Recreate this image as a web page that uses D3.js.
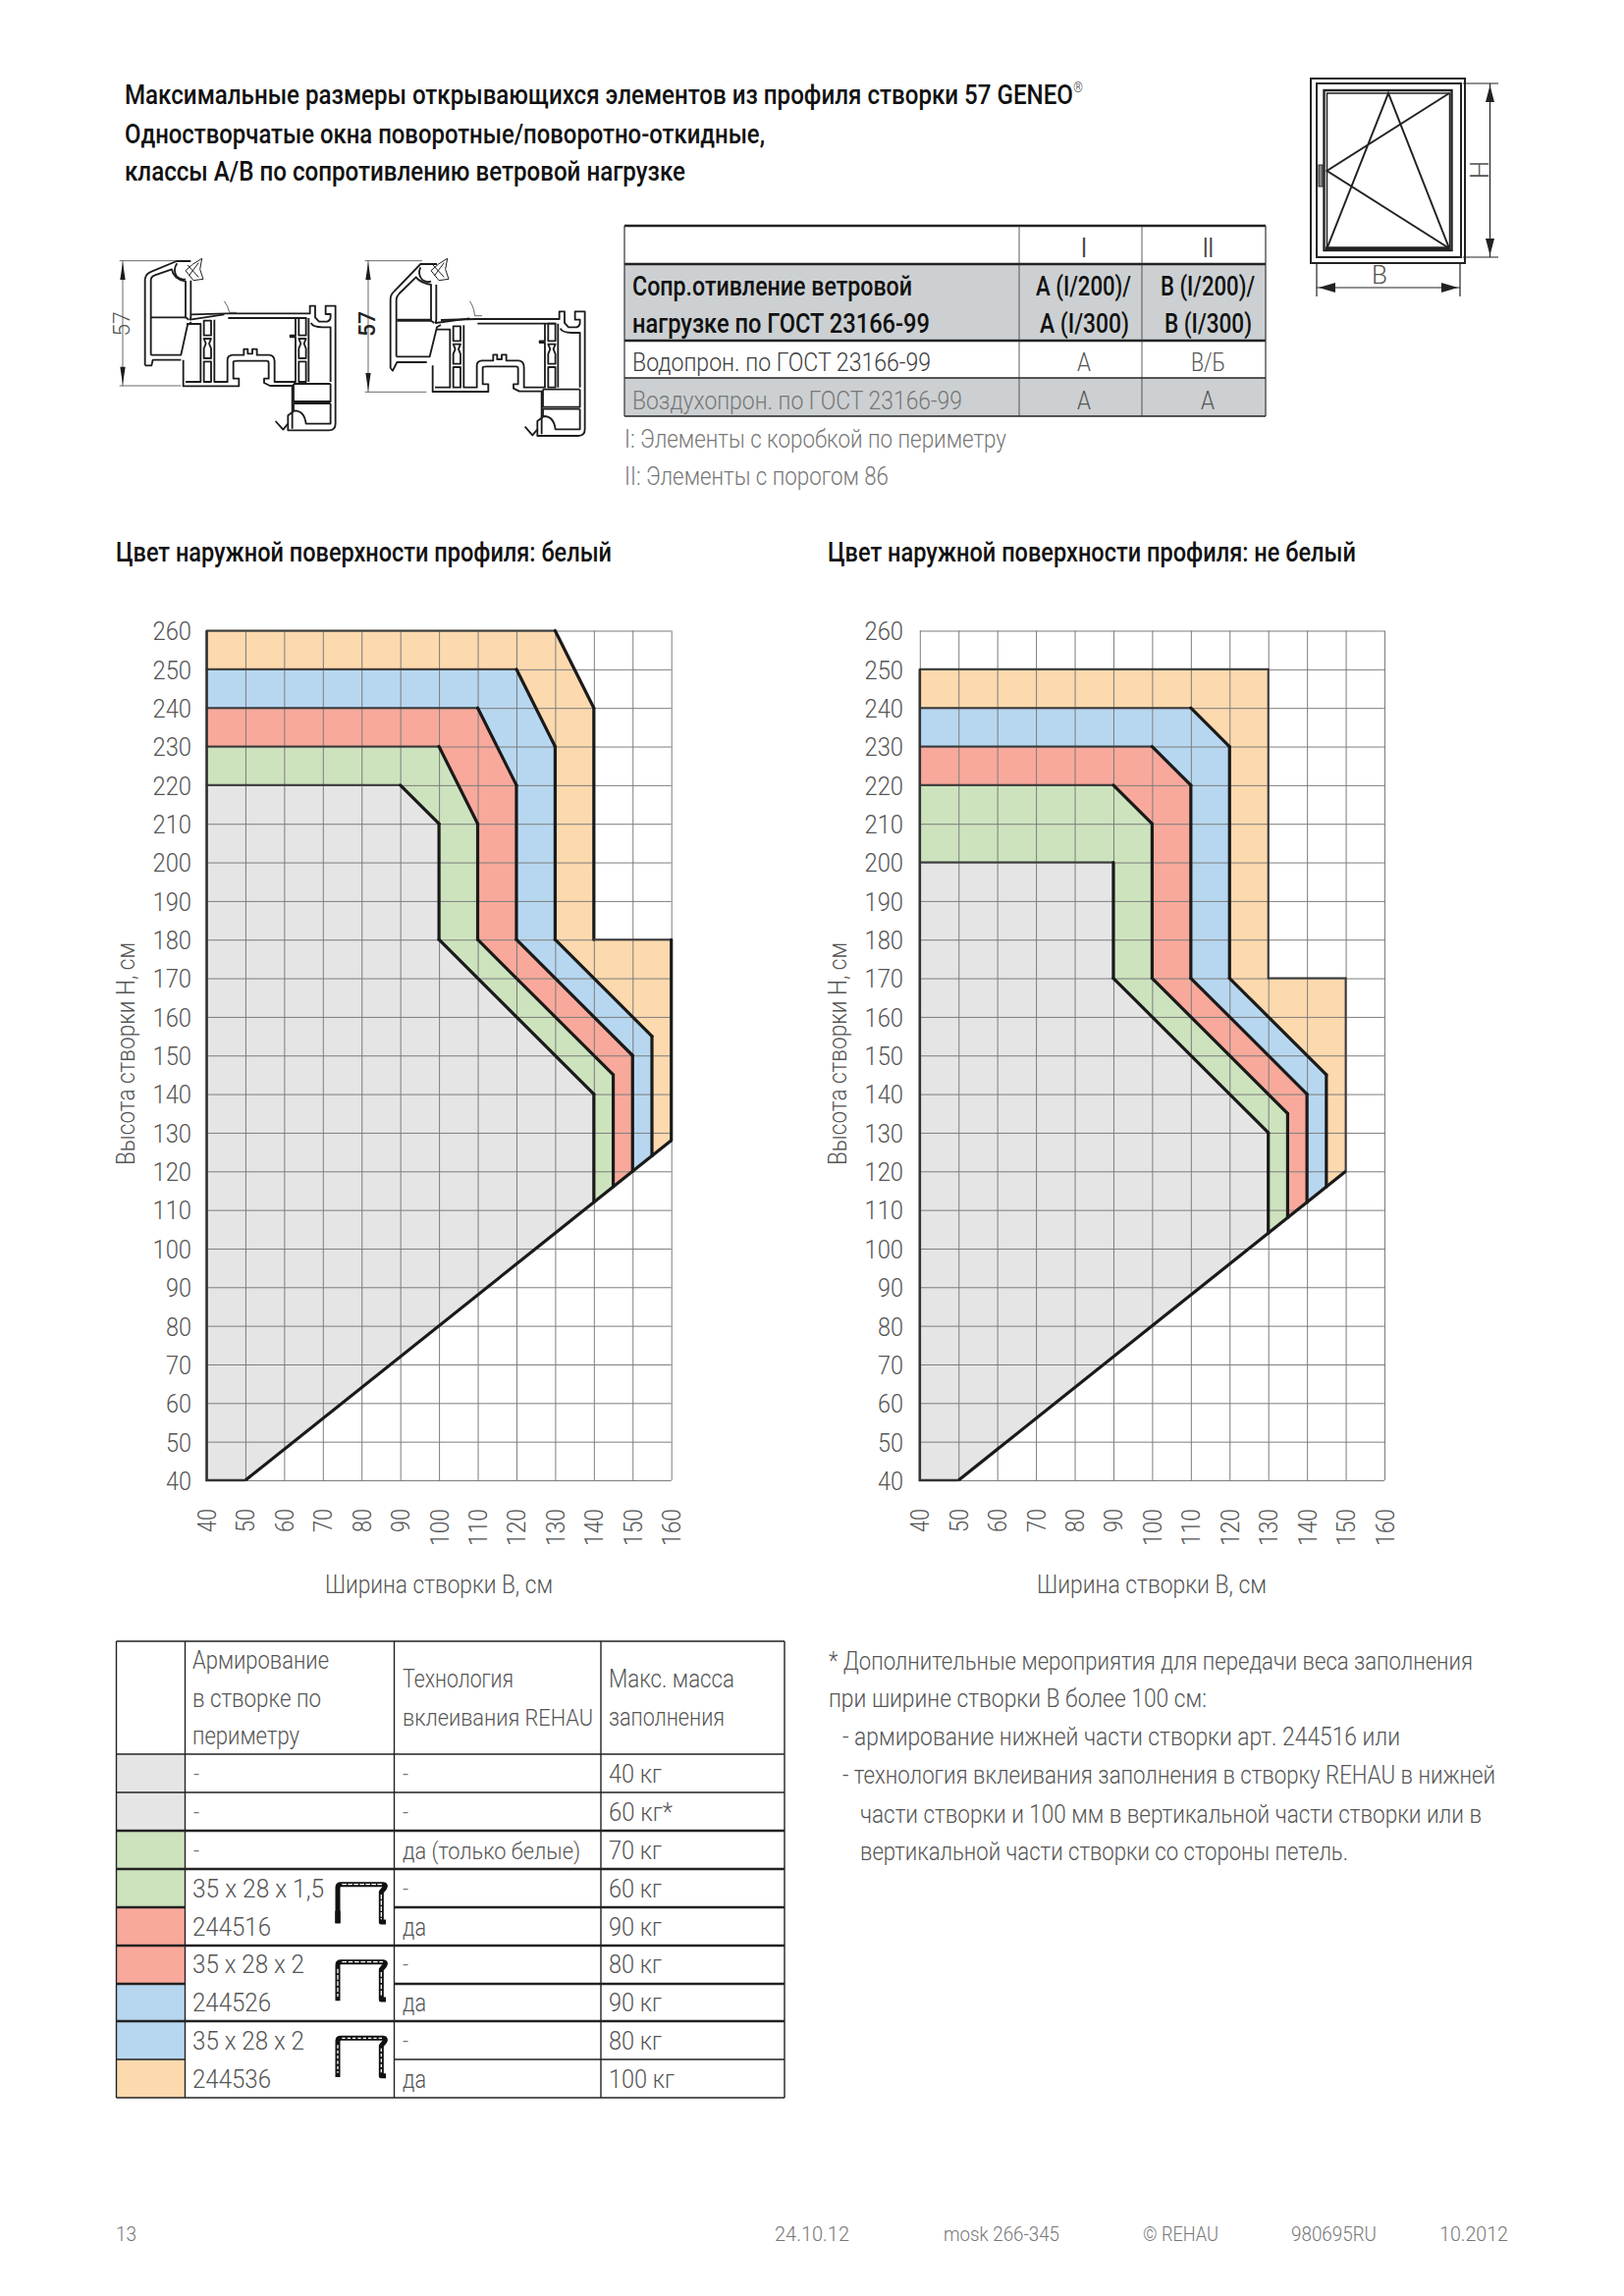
<!DOCTYPE html>
<html><head><meta charset="utf-8">
<script src="https://cdn.jsdelivr.net/npm/d3@7"></script>
<style>html,body{margin:0;padding:0;background:#fff}svg{display:block}
text{font-family:Roboto,"Liberation Sans",sans-serif}</style></head><body>
<svg id="c" width="1654" height="2339"></svg>
<script>
const GRAY="#e5e5e6",GREEN="#cde3bd",RED="#f8a99b",BLUE="#b7d7f0",ORANGE="#fdd9ae";
const xTicks=[40,50,60,70,80,90,100,110,120,130,140,150,160];
const yTicks=[40,50,60,70,80,90,100,110,120,130,140,150,160,170,180,190,200,210,220,230,240,250,260];

// Boundaries [width B cm, height H cm]
const leftOrange=[[40,260],[130,260],[140,240],[140,180],[160,180],[160,128]];
const leftBlue=[[40,250],[120,250],[130,230],[130,180],[155,155],[155,124]];
const leftRed=[[40,240],[110,240],[120,220],[120,180],[150,150],[150,120]];
const leftGreen=[[40,230],[100,230],[110,210],[110,180],[145,145],[145,116]];
const leftGray=[[40,220],[90,220],[100,210],[100,180],[140,140],[140,112]];
const rightOrange=[[40,250],[130,250],[130,170],[150,170],[150,120]];
const rightBlue=[[40,240],[110,240],[120,230],[120,170],[145,145],[145,116]];
const rightRed=[[40,230],[100,230],[110,220],[110,170],[140,140],[140,112]];
const rightGreen=[[40,220],[90,220],[100,210],[100,170],[135,135],[135,108]];
const rightGray=[[40,200],[90,200],[90,170],[130,130],[130,104]];

// text: string, x start, x end, baseline, size, weight, colour
const DK="#444",MID="#555",LT="#777";
const titleTexts=[
["Максимальные размеры открывающихся элементов из профиля створки 57 GENEO",127,1103,106,27,500,"#111"],
["Одностворчатые окна поворотные/поворотно-откидные,",127,779,146,27,500,"#111"],
["классы A/B по сопротивлению ветровой нагрузке",127,698,184,27,500,"#111"],
["Цвет наружной поверхности профиля: белый",118,623,572,27,500,"#111"],
["Цвет наружной поверхности профиля: не белый",843,1381,572,27,500,"#111"]];
const topTableTexts=[
["I",1101,1107,262,27,400,DK],["II",1225,1236,262,27,400,DK],
["Сопр.отивление ветровой",644,929,301,27,500,"#111"],
["нагрузке по ГОСТ 23166-99",644,947,339,27,500,"#111"],
["A (I/200)/",1055,1152,301,27,500,"#111"],["A (I/300)",1059,1150,339,27,500,"#111"],
["B (I/200)/",1182,1278,301,27,500,"#111"],["B (I/300)",1186,1275,339,27,500,"#111"],
["Водопрон. по ГОСТ 23166-99",644,948,378,26,300,"#3c3c3c"],
["А",1097,1111,378,26,300,MID],["В/Б",1213,1248,378,26,300,MID],
["Воздухопрон. по ГОСТ 23166-99",644,980,417,26,300,LT],
["А",1097,1111,417,26,300,MID],["А",1223,1237,417,26,300,MID],
["I: Элементы с коробкой по периметру",636,1025,456,26,300,LT],
["II: Элементы с порогом 86",636,905,494,26,300,LT]];
const axisTitles=[["Ширина створки В, см",331,563,1623,26,300,MID],["Ширина створки В, см",1056,1290,1623,26,300,MID]];
const lowerTableTexts=[
["Армирование",196,335,1700,26,300,MID],["в створке по",196,327,1739,26,300,MID],["периметру",196,305,1777,26,300,MID],
["Технология",410,523,1719,26,300,MID],["вклеивания REHAU",410,604,1758,24,300,MID],
["Макс. масса",620,748,1719,26,300,MID],["заполнения",620,738,1758,26,300,MID],
["-",197,203,1816,26,300,LT],["-",410,416,1816,26,300,LT],["40 кг",620,674,1816,26,300,MID],
["-",197,203,1855,26,300,LT],["-",410,416,1855,26,300,LT],["60 кг*",620,685,1855,26,300,MID],
["-",197,203,1894,26,300,LT],["да (только белые)",410,591,1894,24,300,MID],["70 кг",620,674,1894,26,300,MID],
["35 x 28 x 1,5",196,330,1933,26,300,MID],["-",410,416,1933,26,300,LT],["60 кг",620,674,1933,26,300,MID],
["244516",196,276,1972,26,300,MID],["да",410,434,1972,26,300,MID],["90 кг",620,674,1972,26,300,MID],
["35 x 28 x 2",196,310,2010,26,300,MID],["-",410,416,2010,26,300,LT],["80 кг",620,674,2010,26,300,MID],
["244526",196,276,2049,26,300,MID],["да",410,434,2049,26,300,MID],["90 кг",620,674,2049,26,300,MID],
["35 x 28 x 2",196,310,2088,26,300,MID],["-",410,416,2088,26,300,LT],["80 кг",620,674,2088,26,300,MID],
["244536",196,276,2127,26,300,MID],["да",410,434,2127,26,300,MID],["100 кг",620,687,2127,26,300,MID]];
const noteTexts=[
["* Дополнительные мероприятия для передачи веса заполнения",844,1500,1701,26,300,MID],
["при ширине створки В более 100 см:",844,1229,1739,26,300,MID],
["- армирование нижней части створки арт. 244516 или",858,1426,1778,26,300,MID],
["- технология вклеивания заполнения в створку REHAU в нижней",858,1523,1817,26,300,MID],
["части створки и 100 мм в вертикальной части створки или в",876,1509,1857,26,300,MID],
["вертикальной части створки со стороны петель.",876,1373,1895,26,300,MID]];
const footerTexts=[
["13",118,139,2283,21,300,LT],["24.10.12",789,865,2283,21,300,LT],["mosk 266-345",961,1079,2283,21,300,LT],
["© REHAU",1164,1241,2283,21,300,LT],["980695RU",1315,1402,2283,21,300,LT],["10.2012",1466,1536,2283,21,300,LT]];
// table structure
const topCols=[636,1038,1163,1289];
const topRows=[230,269,347,385,424];
const lowCols=[118.5,188.5,401.5,612,799];
const lowRows=[1672,1787,1826,1865,1904,1943,1982,2021,2059,2098,2137];
const swatchColors=[GRAY,GRAY,GREEN,GREEN,RED,RED,BLUE,BLUE,ORANGE];

const svg=d3.select("#c");
function put(g,list){
  return g.selectAll(null).data(list).join("text").text(d=>d[0])
   .attr("x",d=>d[1]).attr("y",d=>d[3]).attr("font-size",d=>d[4]).attr("font-weight",d=>d[5]).attr("fill",d=>d[6])
   .attr("textLength",d=>d[2]-d[1]).attr("lengthAdjust","spacingAndGlyphs");
}

function chart(tx,layers,thinEdges,bottomEnd,yTitleX,tickEnd){
  const x=d3.scaleLinear().domain([40,160]).range([tx,tx+473.2]);
  const y=d3.scaleLinear().domain([40,260]).range([1508,642.5]);
  const g=svg.append("g");
  const line=d3.line().x(d=>x(d[0])).y(d=>y(d[1]));
  const startB=[[50,40],[40,40]];
  layers.forEach(l=>g.append("path").attr("d",line([...l.pts,...startB])+"Z").attr("fill",l.c));
  const ay=d3.axisLeft(y).tickValues(yTicks).tickSize(-473.2).tickPadding(tx-tickEnd);
  const ax=d3.axisBottom(x).tickValues(xTicks).tickSize(0).tickPadding(0);
  const gy=g.append("g").attr("transform",`translate(${tx},0)`).call(ay);
  const gx=g.append("g").attr("transform",`translate(0,1508)`).call(ax);
  const gv=g.append("g").attr("transform",`translate(0,1508)`).call(d3.axisBottom(x).tickValues(xTicks).tickSize(-865.5).tickFormat(""));
  [gy,gx,gv].forEach(s=>{s.select(".domain").remove();s.selectAll("line").attr("stroke","#7d7d7d").attr("stroke-width",1);});
  gy.selectAll("text").attr("font-size",26).attr("font-weight",300).attr("fill",MID).attr("font-family","Roboto").attr("dy","0.36em")
    .attr("textLength",d=>d>=100?39.5:26).attr("lengthAdjust","spacingAndGlyphs");
  gx.selectAll("text").attr("font-size",26).attr("font-weight",300).attr("fill",MID).attr("font-family","Roboto")
    .attr("text-anchor","end").attr("dy",0).attr("y",0)
    .attr("transform","translate(9,29) rotate(-90)").attr("x",0)
    .attr("textLength",d=>d>=100?38:24).attr("lengthAdjust","spacingAndGlyphs");
  layers.forEach(l=>{
    d3.pairs(l.pts).forEach(([a,b])=>{
      const flat=a[1]===b[1];
      const thin=flat||l.thin;
      g.append("path").attr("d",line([a,b])).attr("fill","none")
       .attr("stroke",thin?"#3a3a3a":"#1a1a1a").attr("stroke-width",thin?2:3.2).attr("stroke-linecap","round");
    });
  });
  g.append("path").attr("d",line([bottomEnd,[50,40]])).attr("stroke","#1a1a1a").attr("stroke-width",3.2).attr("fill","none");
  g.append("path").attr("d",line(thinEdges)).attr("stroke","#333").attr("stroke-width",2.6).attr("fill","none");
  g.append("text").text("Высота створки Н, см").attr("transform",`translate(${yTitleX},1187) rotate(-90)`)
   .attr("font-size",26).attr("font-weight",300).attr("fill",MID).attr("textLength",227).attr("lengthAdjust","spacingAndGlyphs");
}
chart(210.5,[{pts:leftOrange,c:ORANGE},{pts:leftBlue,c:BLUE},{pts:leftRed,c:RED},{pts:leftGreen,c:GREEN},{pts:leftGray,c:GRAY}],
  [[40,260],[40,40],[50,40]],[160,128],137,195);
chart(936.8,[{pts:rightOrange,c:ORANGE,thin:true},{pts:rightBlue,c:BLUE},{pts:rightRed,c:RED},{pts:rightGreen,c:GREEN},{pts:rightGray,c:GRAY}],
  [[40,250],[40,40],[50,40]],[150,120],862,920);

const titles=put(svg.append("g"),titleTexts);
// the registered-mark sign is part of the first title line, raised and small
d3.select(titles.nodes()[0]).append("tspan").text("®").attr("font-size",14).attr("font-weight",300).attr("fill",DK).attr("dy",-12);
put(svg.append("g"),axisTitles);

// upper table
const tt=svg.append("g");
tt.append("rect").attr("x",topCols[0]).attr("y",topRows[1]).attr("width",topCols[3]-topCols[0]).attr("height",topRows[2]-topRows[1]).attr("fill","#ccd0d2");
tt.append("rect").attr("x",topCols[0]).attr("y",topRows[3]).attr("width",topCols[3]-topCols[0]).attr("height",topRows[4]-topRows[3]).attr("fill","#ccd0d2");
[2.5,2.5,2.5,1.3,1.3].forEach((w,i)=>tt.append("line").attr("x1",topCols[0]).attr("x2",topCols[3]).attr("y1",topRows[i]).attr("y2",topRows[i]).attr("stroke","#222").attr("stroke-width",w));
topCols.forEach((c,i)=>tt.append("line").attr("x1",c).attr("x2",c).attr("y1",topRows[0]).attr("y2",topRows[4]).attr("stroke","#333").attr("stroke-width",i==0||i==3?1.2:.8));
put(tt,topTableTexts);

// lower table
const lt=svg.append("g");
swatchColors.forEach((c,i)=>lt.append("rect").attr("x",lowCols[0]).attr("y",lowRows[i+1]).attr("width",lowCols[1]-lowCols[0]).attr("height",lowRows[i+2]-lowRows[i+1]).attr("fill",c));
const heavy=[0,0,0,1,1,1,1,1,1,0,0];
lowRows.forEach((r,i)=>{
  const w=heavy[i]?2.6:1.4;
  if(i===5||i===7||i===9){
    lt.append("line").attr("x1",lowCols[0]).attr("x2",lowCols[1]).attr("y1",r).attr("y2",r).attr("stroke","#222").attr("stroke-width",w);
    lt.append("line").attr("x1",lowCols[2]).attr("x2",lowCols[4]).attr("y1",r).attr("y2",r).attr("stroke","#222").attr("stroke-width",w);
  } else lt.append("line").attr("x1",lowCols[0]).attr("x2",lowCols[4]).attr("y1",r).attr("y2",r).attr("stroke","#222").attr("stroke-width",w);
});
lowCols.forEach(c=>lt.append("line").attr("x1",c).attr("x2",c).attr("y1",lowRows[0]).attr("y2",lowRows[10]).attr("stroke","#222").attr("stroke-width",1.4));
put(lt,lowerTableTexts);
put(svg.append("g"),noteTexts);
put(svg.append("g"),footerTexts);

// reinforcement sections
const ic=svg.append("g").attr("transform","translate(335,1910) scale(.3333)").attr("fill","none").attr("stroke-linejoin","round");
[[0,"14 4"],[237,"14 5"],[470,"10 6"]].forEach(([dy,dash],i)=>{
  const g=ic.append("g").attr("transform",`translate(0,${dy})`);
  g.append("path").attr("d","M27,148 V38 Q27,29 37,29 H166 Q176,30 170,40 L160,52 V144 H174").attr("stroke","#111").attr("stroke-width",15);
  g.append("path").attr("d","M40,29 H165"+(i>0?" M27,50 V135 M160,60 V136":" M160,60 V136")).attr("stroke","#fff").attr("stroke-width",4).attr("stroke-dasharray",dash);
  if(i===0) g.append("path").attr("d","M27,110 V148").attr("stroke","#111").attr("stroke-width",16);
});

// profile drawings, drawn in 3x local units
function profile(ox,oy,upper,lowDx,lowDy,bottomDim,bold){
  const g=svg.append("g").attr("transform",`translate(${ox},${oy}) scale(.3333)`).attr("fill","none").attr("stroke","#1c1c1c").attr("stroke-linejoin","round");
  const d=g.append("g").attr("stroke-width",2);
  d.append("path").attr("d",`M20,32 H195 M20,${bottomDim} H208 M30,32 V${bottomDim}`);
  d.append("path").attr("fill","#1c1c1c").attr("stroke","none").attr("d",`M30,36 L22,90 H38Z M30,${bottomDim-4} L22,${bottomDim-58} H38Z`);
  g.append("text").text("57").attr("transform","translate(50,225) rotate(-90) scale(3,3)").attr("text-anchor","middle").attr("stroke","none").attr("fill",bold?"#222":"#555").attr("font-weight",bold?500:300).attr("font-size",23);
  const u=g.append("g").attr("stroke-width",5.5);
  upper.forEach(p=>u.append("path").attr("d",p));
  const l=g.append("g").attr("stroke-width",5.5).attr("transform",`translate(${lowDx},${lowDy})`);
  const lowerPaths=[
   "M215,335 V415 H385 V392 H368 V340 Q368,338 380,338 H470 Q476,338 476,345 V392 H462 V405 L480,414 H548 V545",
   "M225,225 H268 V402 H222",
   "M278,215 H300 V260 H278Z M278,340 H300 V402 H278Z",
   "M278,270 L284,285 L278,300 V330 H300 V300 L294,285 L300,270Z",
   "M310,212 V402 H350 V335 Q350,322 365,320 H400 V302 H412 V316 H426 V302 H440 V320 H478 Q494,322 494,340 V402 H558 V265 H542 V260 H558 V207",
   "M568,207 H590 V260 H568Z M568,340 H590 V402 H568Z M568,270 L574,285 L568,300 V330 H590 V300 L584,285 L590,270Z",
   "M598,207 V402 M552,408 H665 M552,408 V462 H665 V408",
   "M605,222 Q612,235 640,235 H665 V402",
   "M240,196 L350,193 H602 V170 H618 V205 L630,218 H655 Q665,215 665,205 V195 H650 V170 H680 V530 Q680,550 660,550 H535 V530",
   "M352,207 H592",
   "M665,468 H552 V490 M665,468 V530 H590 Q585,490 555,490 L535,505 V530 L520,548 L497,522"];
  lowerPaths.forEach(p=>l.append("path").attr("d",p));
  g.append("path").attr("stroke-width",2).attr("d",`M340,155 Q352,170 356,${190+lowDy*.6} H378`);
  g.append("path").attr("stroke-width",3).attr("d","M245,42 L272,25 L266,58 L276,88 L246,92 L222,62Z M228,45 L262,82 M262,38 L232,78");
  return g;
}
profile(115,255,[
 "M98,352 V88 Q100,72 118,65 L195,33 H238",
 "M116,320 V92 Q116,80 128,76 L180,58 Q185,88 222,95 V205 L232,212",
 "M116,205 H222","M116,320 H208 L228,228 L240,220","M238,92 V205 L236,212 L340,196",
 "M98,352 H118 L122,335 H208","M196,40 Q182,60 195,80 Q210,92 222,88"],0,0,414,false);
const p2=profile(365,255,[
 "M98,360 V150 Q98,135 110,125 L190,42 H240",
 "M116,325 V150 Q116,142 125,132 L176,82 Q190,100 222,105 V215 L232,222",
 "M116,325 H218 L240,235 L252,228","M238,105 V212 L236,222 L340,208",
 "M98,360 L105,368 L118,342 H209","M190,52 Q180,72 195,90 Q210,100 222,95"],12,17,433,true);
p2.append("path").attr("d","M118,214 H222").attr("stroke-width",9);

// window symbol
const w=svg.append("g").attr("fill","none").attr("stroke","#222");
const rects=[[1335,80,157,188,2],[1341,85,147,177,2],[1348.5,92,130,163,2.4],[1351.5,95,125,158,1.5]];
rects.forEach(r=>w.append("rect").attr("x",r[0]).attr("y",r[1]).attr("width",r[2]).attr("height",r[3]).attr("stroke-width",r[4]));
w.append("path").attr("stroke-width",2).attr("d","M1476,95 L1351.5,174 L1476,253 M1351.5,253 L1414,95 L1476,253");
w.append("path").attr("stroke-width",3.5).attr("d","M1350,253 H1477");
w.append("rect").attr("x",1343).attr("y",168).attr("width",4).attr("height",22).attr("fill","#888").attr("stroke-width",1);
w.append("path").attr("stroke-width",1.2).attr("d","M1490,85 H1526 M1490,262 H1526 M1517.5,85 V262 M1341,268 V302 M1487,268 V302 M1341,293 H1487");
w.append("path").attr("fill","#222").attr("stroke","none").attr("d","M1517.5,87 L1513,104 H1522Z M1517.5,260 L1513,243 H1522Z M1343,293 L1360,288 V298Z M1485,293 L1468,288 V298Z");
svg.append("text").text("H").attr("transform","translate(1516,173) rotate(-90)").attr("text-anchor","middle").attr("font-size",26).attr("font-weight",300).attr("fill",MID);
svg.append("text").text("B").attr("x",1405).attr("y",289).attr("text-anchor","middle").attr("font-size",26).attr("font-weight",300).attr("fill",MID);
</script></body></html>
